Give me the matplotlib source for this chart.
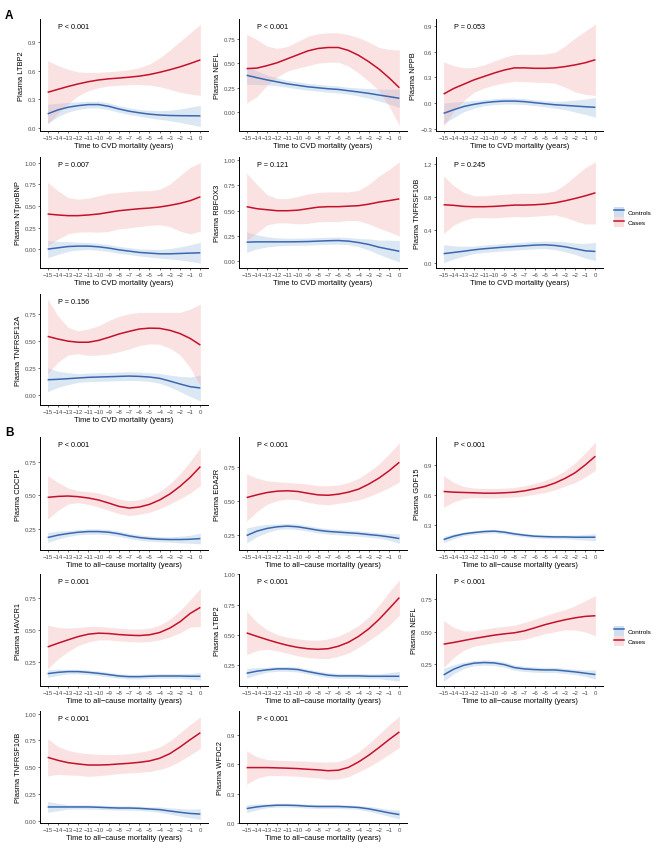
import matplotlib
matplotlib.use('Agg')
import matplotlib.pyplot as plt
from matplotlib.patches import Patch
from matplotlib.lines import Line2D

plt.rcParams['font.family'] = ['Liberation Sans', 'DejaVu Sans']

# ---------------- data ----------------
years = list(range(-15, 1))
xtick_labels = ['\u2212' + str(-y) if y < 0 else '0' for y in years]
group_labels = ['Controls', 'Cases']
xlabel_A = 'Time to CVD mortality (years)'
xlabel_B = 'Time to all\u2212cause mortality (years)'

# Panel A (CVD mortality)
a_ltbp2_cases_fit = [0.374,0.405,0.435,0.462,0.485,0.503,0.515,0.523,0.532,0.543,0.56,0.583,0.61,0.64,0.675,0.713]
a_ltbp2_cases_hw = [0.33,0.25,0.18,0.125,0.095,0.08,0.075,0.075,0.078,0.088,0.11,0.15,0.205,0.265,0.32,0.37]
a_ltbp2_ctrl_fit = [0.149,0.19,0.218,0.235,0.246,0.246,0.228,0.20,0.177,0.16,0.146,0.137,0.132,0.13,0.129,0.128]
a_ltbp2_ctrl_hw = [0.10,0.07,0.05,0.04,0.035,0.035,0.035,0.035,0.035,0.035,0.04,0.045,0.055,0.07,0.09,0.11]

a_nefl_cases_fit = [0.445,0.45,0.475,0.505,0.545,0.585,0.625,0.65,0.66,0.66,0.63,0.58,0.515,0.44,0.35,0.25]
a_nefl_cases_hw = [0.35,0.29,0.2,0.145,0.125,0.135,0.15,0.15,0.15,0.15,0.16,0.18,0.2,0.22,0.29,0.385]
a_nefl_ctrl_fit = [0.377,0.353,0.33,0.31,0.29,0.275,0.26,0.25,0.24,0.233,0.22,0.207,0.193,0.176,0.16,0.143]
a_nefl_ctrl_hw = [0.09,0.07,0.05,0.04,0.035,0.035,0.035,0.035,0.035,0.035,0.035,0.04,0.05,0.06,0.075,0.095]

a_nppb_cases_fit = [0.105,0.17,0.22,0.27,0.31,0.35,0.385,0.41,0.41,0.405,0.405,0.41,0.425,0.445,0.47,0.505]
a_nppb_cases_hw = [0.375,0.265,0.19,0.145,0.135,0.14,0.15,0.155,0.16,0.163,0.165,0.18,0.24,0.315,0.37,0.415]
a_nppb_ctrl_fit = [-0.12,-0.078,-0.04,-0.015,0.004,0.016,0.023,0.023,0.016,0.004,-0.008,-0.02,-0.027,-0.035,-0.043,-0.05]
a_nppb_ctrl_hw = [0.12,0.09,0.06,0.045,0.035,0.035,0.035,0.035,0.035,0.035,0.035,0.04,0.05,0.07,0.09,0.115]

a_ntprobnp_cases_fit = [0.406,0.395,0.387,0.387,0.395,0.406,0.425,0.444,0.456,0.467,0.475,0.487,0.506,0.529,0.56,0.605]
a_ntprobnp_cases_hw = [0.365,0.28,0.21,0.19,0.195,0.21,0.22,0.21,0.21,0.207,0.2,0.205,0.245,0.32,0.385,0.395]
a_ntprobnp_ctrl_fit = [0.0,0.015,0.03,0.035,0.035,0.027,0.012,-0.008,-0.023,-0.038,-0.046,-0.054,-0.054,-0.05,-0.046,-0.042]
a_ntprobnp_ctrl_hw = [0.1,0.075,0.055,0.045,0.04,0.04,0.04,0.04,0.04,0.04,0.045,0.05,0.06,0.075,0.095,0.12]

a_rbfox3_cases_fit = [0.54,0.52,0.51,0.50,0.50,0.505,0.52,0.535,0.54,0.54,0.545,0.55,0.565,0.585,0.60,0.617]
a_rbfox3_cases_hw = [0.33,0.24,0.15,0.12,0.12,0.135,0.145,0.145,0.146,0.146,0.141,0.15,0.195,0.258,0.308,0.367]
a_rbfox3_ctrl_fit = [0.19,0.193,0.193,0.193,0.193,0.194,0.196,0.2,0.204,0.206,0.2,0.186,0.167,0.14,0.12,0.10]
a_rbfox3_ctrl_hw = [0.1,0.07,0.05,0.04,0.035,0.035,0.035,0.035,0.035,0.035,0.035,0.04,0.055,0.07,0.09,0.105]

a_tnfrsf10b_cases_fit = [0.707,0.70,0.687,0.683,0.683,0.687,0.695,0.703,0.703,0.707,0.715,0.73,0.755,0.784,0.816,0.853]
a_tnfrsf10b_cases_hw = [0.35,0.24,0.17,0.133,0.133,0.14,0.14,0.14,0.145,0.14,0.138,0.147,0.2,0.275,0.344,0.38]
a_tnfrsf10b_ctrl_fit = [0.11,0.125,0.14,0.157,0.17,0.18,0.19,0.198,0.206,0.214,0.218,0.21,0.194,0.17,0.145,0.137]
a_tnfrsf10b_ctrl_hw = [0.11,0.08,0.06,0.045,0.045,0.045,0.045,0.045,0.045,0.045,0.045,0.05,0.06,0.07,0.09,0.11]

a_tnfrsf12a_cases_fit = [0.544,0.52,0.50,0.49,0.49,0.507,0.535,0.566,0.59,0.612,0.62,0.618,0.60,0.57,0.525,0.464]
a_tnfrsf12a_cases_hw = [0.344,0.215,0.127,0.106,0.122,0.135,0.154,0.163,0.163,0.153,0.145,0.147,0.165,0.195,0.271,0.378]
a_tnfrsf12a_ctrl_fit = [0.144,0.148,0.154,0.16,0.166,0.169,0.172,0.175,0.178,0.175,0.169,0.157,0.132,0.105,0.08,0.068]
a_tnfrsf12a_ctrl_hw = [0.11,0.075,0.055,0.04,0.04,0.04,0.04,0.04,0.04,0.04,0.04,0.045,0.055,0.07,0.09,0.12]

# Panel B (all-cause mortality)
b_cdcp1_cases_fit = [0.485,0.492,0.495,0.49,0.48,0.465,0.442,0.417,0.404,0.412,0.432,0.465,0.51,0.568,0.636,0.717]
b_cdcp1_cases_hw = [0.164,0.106,0.061,0.045,0.048,0.053,0.055,0.055,0.056,0.055,0.06,0.065,0.076,0.094,0.119,0.142]
b_cdcp1_ctrl_fit = [0.182,0.2,0.212,0.222,0.227,0.227,0.222,0.21,0.194,0.182,0.174,0.169,0.167,0.167,0.169,0.174]
b_cdcp1_ctrl_hw = [0.038,0.03,0.022,0.02,0.02,0.02,0.02,0.02,0.02,0.02,0.02,0.02,0.02,0.025,0.03,0.04]

b_eda2r_cases_fit = [0.523,0.543,0.56,0.57,0.573,0.568,0.555,0.543,0.54,0.548,0.563,0.585,0.622,0.666,0.72,0.782]
b_eda2r_cases_hw = [0.173,0.123,0.086,0.069,0.061,0.061,0.067,0.067,0.07,0.067,0.071,0.079,0.091,0.104,0.124,0.143]
b_eda2r_ctrl_fit = [0.245,0.277,0.297,0.309,0.314,0.309,0.297,0.284,0.275,0.27,0.265,0.26,0.252,0.245,0.235,0.223]
b_eda2r_ctrl_hw = [0.055,0.04,0.03,0.02,0.02,0.02,0.02,0.02,0.02,0.02,0.02,0.02,0.02,0.02,0.025,0.035]

b_gdf15_cases_fit = [0.635,0.628,0.625,0.622,0.618,0.618,0.622,0.628,0.641,0.661,0.684,0.718,0.764,0.82,0.897,0.983]
b_gdf15_cases_hw = [0.155,0.096,0.059,0.046,0.047,0.047,0.046,0.047,0.05,0.053,0.06,0.066,0.076,0.097,0.119,0.139]
b_gdf15_ctrl_fit = [0.161,0.194,0.217,0.23,0.24,0.244,0.234,0.217,0.204,0.194,0.19,0.187,0.187,0.184,0.184,0.184]
b_gdf15_ctrl_hw = [0.03,0.025,0.018,0.018,0.018,0.018,0.018,0.018,0.018,0.018,0.018,0.018,0.018,0.022,0.028,0.035]

b_havcr1_cases_fit = [0.366,0.395,0.422,0.448,0.467,0.475,0.472,0.464,0.459,0.456,0.462,0.48,0.515,0.565,0.631,0.679]
b_havcr1_cases_hw = [0.172,0.125,0.093,0.072,0.061,0.053,0.05,0.051,0.05,0.051,0.053,0.058,0.071,0.087,0.108,0.15]
b_havcr1_ctrl_fit = [0.155,0.165,0.171,0.171,0.165,0.157,0.147,0.136,0.131,0.131,0.134,0.136,0.136,0.136,0.134,0.134]
b_havcr1_ctrl_hw = [0.03,0.025,0.018,0.018,0.018,0.018,0.018,0.018,0.018,0.018,0.018,0.018,0.018,0.018,0.022,0.03]

b_ltbp2_cases_fit = [0.518,0.49,0.463,0.438,0.416,0.399,0.388,0.383,0.388,0.408,0.441,0.49,0.552,0.629,0.718,0.809]
b_ltbp2_cases_hw = [0.178,0.117,0.08,0.067,0.066,0.07,0.072,0.075,0.081,0.082,0.089,0.09,0.097,0.116,0.138,0.144]
b_ltbp2_ctrl_fit = [0.186,0.203,0.214,0.222,0.222,0.217,0.2,0.184,0.17,0.164,0.164,0.164,0.161,0.161,0.161,0.161]
b_ltbp2_ctrl_hw = [0.04,0.03,0.02,0.02,0.02,0.02,0.02,0.02,0.02,0.02,0.02,0.02,0.02,0.02,0.03,0.04]

b_nefl_cases_fit = [0.404,0.417,0.432,0.447,0.46,0.473,0.483,0.491,0.506,0.529,0.553,0.573,0.591,0.606,0.617,0.622]
b_nefl_cases_hw = [0.18,0.115,0.074,0.059,0.059,0.059,0.057,0.059,0.065,0.067,0.069,0.074,0.077,0.093,0.12,0.154]
b_nefl_ctrl_fit = [0.168,0.212,0.242,0.258,0.263,0.26,0.247,0.224,0.214,0.209,0.206,0.206,0.199,0.191,0.181,0.171]
b_nefl_ctrl_hw = [0.05,0.035,0.025,0.02,0.02,0.02,0.02,0.02,0.02,0.02,0.02,0.02,0.02,0.02,0.025,0.035]

b_tnfrsf10b_cases_fit = [0.592,0.564,0.542,0.53,0.52,0.52,0.523,0.53,0.536,0.545,0.558,0.583,0.626,0.688,0.757,0.822]
b_tnfrsf10b_cases_hw = [0.174,0.131,0.115,0.106,0.106,0.1,0.094,0.09,0.09,0.094,0.099,0.105,0.119,0.131,0.143,0.147]
b_tnfrsf10b_ctrl_fit = [0.128,0.128,0.128,0.128,0.128,0.125,0.121,0.118,0.118,0.115,0.109,0.103,0.09,0.078,0.067,0.062]
b_tnfrsf10b_ctrl_hw = [0.05,0.035,0.02,0.02,0.02,0.02,0.02,0.02,0.02,0.02,0.02,0.025,0.03,0.035,0.04,0.05]

b_wfdc2_cases_fit = [0.564,0.564,0.564,0.561,0.558,0.554,0.547,0.541,0.532,0.537,0.566,0.622,0.69,0.768,0.85,0.927]
b_wfdc2_cases_hw = [0.17,0.109,0.082,0.078,0.078,0.078,0.082,0.081,0.088,0.088,0.095,0.102,0.118,0.135,0.15,0.159]
b_wfdc2_ctrl_fit = [0.147,0.164,0.175,0.181,0.181,0.178,0.171,0.168,0.168,0.168,0.164,0.158,0.144,0.124,0.103,0.086]
b_wfdc2_ctrl_hw = [0.04,0.03,0.02,0.02,0.02,0.02,0.02,0.02,0.02,0.02,0.02,0.02,0.025,0.03,0.035,0.045]

# y tick values / labels per panel
ticks_03 = [0.0, 0.3, 0.6, 0.9]
labels_03 = ['0.0', '0.3', '0.6', '0.9']
ticks_025 = [0.0, 0.25, 0.5, 0.75, 1.0]
labels_025 = ['0.00', '0.25', '0.50', '0.75', '1.00']
ticks_nppb = [-0.3, 0.0, 0.3, 0.6, 0.9]
labels_nppb = ['\u22120.3', '0.0', '0.3', '0.6', '0.9']
ticks_04 = [0.0, 0.4, 0.8, 1.2]
labels_04 = ['0.0', '0.4', '0.8', '1.2']

panels_A = [
    ('LTBP2', 'P < 0.001', a_ltbp2_ctrl_fit, a_ltbp2_ctrl_hw, a_ltbp2_cases_fit, a_ltbp2_cases_hw, ticks_03, labels_03, (-0.03, 1.14)),
    ('NEFL', 'P < 0.001', a_nefl_ctrl_fit, a_nefl_ctrl_hw, a_nefl_cases_fit, a_nefl_cases_hw, ticks_025, labels_025, (-0.19, 0.95)),
    ('NPPB', 'P = 0.053', a_nppb_ctrl_fit, a_nppb_ctrl_hw, a_nppb_cases_fit, a_nppb_cases_hw, ticks_nppb, labels_nppb, (-0.326, 0.98)),
    ('NTproBNP', 'P = 0.007', a_ntprobnp_ctrl_fit, a_ntprobnp_ctrl_hw, a_ntprobnp_cases_fit, a_ntprobnp_cases_hw, ticks_025, labels_025, (-0.218, 1.065)),
    ('RBFOX3', 'P = 0.121', a_rbfox3_ctrl_fit, a_rbfox3_ctrl_hw, a_rbfox3_cases_fit, a_rbfox3_cases_hw, ticks_025, labels_025, (-0.065, 1.03)),
    ('TNFRSF10B', 'P = 0.245', a_tnfrsf10b_ctrl_fit, a_tnfrsf10b_ctrl_hw, a_tnfrsf10b_cases_fit, a_tnfrsf10b_cases_hw, ticks_04, labels_04, (-0.065, 1.29)),
    ('TNFRSF12A', 'P = 0.156', a_tnfrsf12a_ctrl_fit, a_tnfrsf12a_ctrl_hw, a_tnfrsf12a_cases_fit, a_tnfrsf12a_cases_hw, ticks_025, labels_025, (-0.089, 0.935)),
]
panels_B = [
    ('CDCP1', 'P < 0.001', b_cdcp1_ctrl_fit, b_cdcp1_ctrl_hw, b_cdcp1_cases_fit, b_cdcp1_cases_hw, ticks_025, labels_025, (0.088, 0.94)),
    ('EDA2R', 'P < 0.001', b_eda2r_ctrl_fit, b_eda2r_ctrl_hw, b_eda2r_cases_fit, b_eda2r_cases_hw, ticks_025, labels_025, (0.139, 0.967)),
    ('GDF15', 'P < 0.001', b_gdf15_ctrl_fit, b_gdf15_ctrl_hw, b_gdf15_cases_fit, b_gdf15_cases_hw, ticks_03, labels_03, (0.058, 1.172)),
    ('HAVCR1', 'P = 0.001', b_havcr1_ctrl_fit, b_havcr1_ctrl_hw, b_havcr1_cases_fit, b_havcr1_cases_hw, ticks_025, labels_025, (0.057, 0.943)),
    ('LTBP2', 'P < 0.001', b_ltbp2_ctrl_fit, b_ltbp2_ctrl_hw, b_ltbp2_cases_fit, b_ltbp2_cases_hw, ticks_025, labels_025, (0.081, 1.003)),
    ('NEFL', 'P < 0.001', b_nefl_ctrl_fit, b_nefl_ctrl_hw, b_nefl_cases_fit, b_nefl_cases_hw, ticks_025, labels_025, (0.083, 0.942)),
    ('TNFRSF10B', 'P < 0.001', b_tnfrsf10b_ctrl_fit, b_tnfrsf10b_ctrl_hw, b_tnfrsf10b_cases_fit, b_tnfrsf10b_cases_hw, ticks_025, labels_025, (-0.022, 1.025)),
    ('WFDC2', 'P < 0.001', b_wfdc2_ctrl_fit, b_wfdc2_ctrl_hw, b_wfdc2_cases_fit, b_wfdc2_cases_hw, ticks_03, labels_03, (0.0, 1.14)),
]

# ---------------- style / layout ----------------
CTRL_LINE = '#3A68B0'
CTRL_FILL = '#7FA7DA'
CASE_LINE = '#C4102A'
CASE_FILL = '#F4A6A6'
FILL_ALPHA_CTRL = 0.27
FILL_ALPHA_CASE = 0.32

W, H = 661, 854
fig = plt.figure(figsize=(W / 100, H / 100), dpi=100)
fig.patch.set_facecolor('white')

col_left = [40, 239, 436]
col_width = [168, 168, 167]
rows_A = [(20, 132), (158, 269), (295, 406)]
rows_B = [(438, 551), (575, 687), (712, 824)]


def add_ax(l, w, t, b):
    return fig.add_axes([l / W, 1 - b / H, w / W, (b - t) / H])


def draw(ax, spec, xlabel):
    name, ptxt, cfit, chw, kfit, khw, yt, yl, ylim = spec
    for fit, hw, lc, fc, fa in [(cfit, chw, CTRL_LINE, CTRL_FILL, FILL_ALPHA_CTRL),
                                (kfit, khw, CASE_LINE, CASE_FILL, FILL_ALPHA_CASE)]:
        lo = [f - h for f, h in zip(fit, hw)]
        hi = [f + h for f, h in zip(fit, hw)]
        ax.fill_between(years, lo, hi, color=fc, alpha=fa, lw=0)
        ax.plot(years, fit, color=lc, lw=1.1, solid_capstyle='butt')
    ax.set_xticks(years)
    ax.set_xticklabels(xtick_labels)
    ax.set_yticks(yt)
    ax.set_yticklabels(yl)
    ax.set_xlim(-15.75, 0.75)
    ax.set_ylim(*ylim)
    for s in ['top', 'right']:
        ax.spines[s].set_visible(False)
    for s in ['left', 'bottom']:
        ax.spines[s].set_linewidth(0.7)
        ax.spines[s].set_color('black')
    ax.tick_params(axis='both', labelsize=4.3, length=1.6, width=0.5,
                   pad=1.2, color='#333333', labelcolor='#4D4D4D')
    ax.set_ylabel('Plasma ' + name, fontsize=5.4, labelpad=2)
    ax.set_xlabel(xlabel, fontsize=5.4, labelpad=1.2)
    ax.text(0.105, 0.935, ptxt, transform=ax.transAxes, fontsize=5.2,
            ha='left', va='center', color='black')


for i, spec in enumerate(panels_A):
    r, c = divmod(i, 3)
    t, b = rows_A[r]
    ax = add_ax(col_left[c], col_width[c], t, b)
    draw(ax, spec, xlabel_A)

for i, spec in enumerate(panels_B):
    r, c = divmod(i, 3)
    t, b = rows_B[r]
    ax = add_ax(col_left[c], col_width[c], t, b)
    draw(ax, spec, xlabel_B)

fig.text(9 / W, 1 - 16 / H, 'A', fontsize=8.5, fontweight='bold', ha='center', va='center')
fig.text(9 / W, 1 - 433 / H, 'B', fontsize=8.5, fontweight='bold', ha='center', va='center')


def make_handles():
    return [(Patch(facecolor=CTRL_FILL, alpha=FILL_ALPHA_CTRL + 0.1, lw=0),
             Line2D([], [], color=CTRL_LINE, lw=1.1)),
            (Patch(facecolor=CASE_FILL, alpha=FILL_ALPHA_CASE + 0.05, lw=0),
             Line2D([], [], color=CASE_LINE, lw=1.1))]


for yc in (218, 637):
    fig.legend(make_handles(), group_labels, loc='center left',
               bbox_to_anchor=(614 / W, 1 - yc / H), frameon=False,
               fontsize=4.6, handlelength=1.6, handleheight=2.0,
               handletextpad=0.5, labelspacing=0.05, borderpad=0,
               borderaxespad=0)

fig.savefig('out.png', dpi=100, facecolor='white')
